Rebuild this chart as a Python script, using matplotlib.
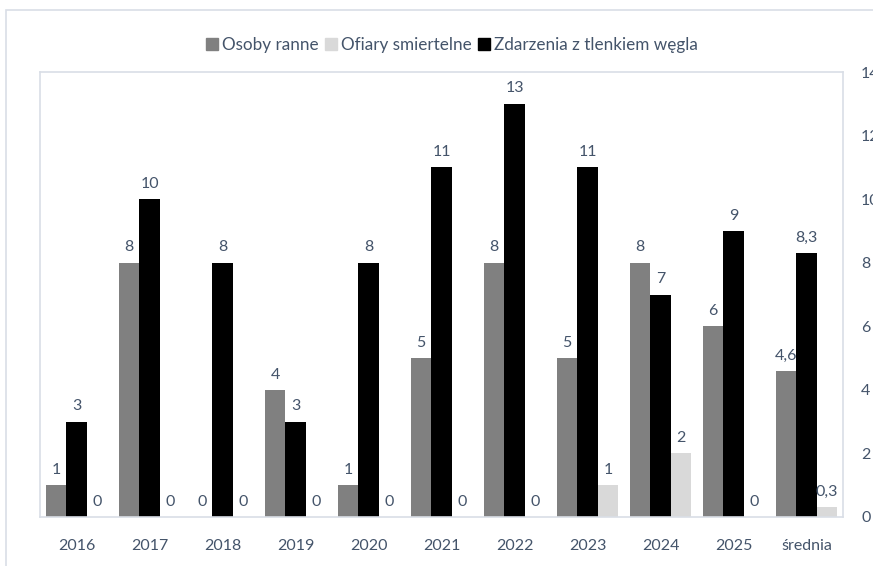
import matplotlib
matplotlib.use("Agg")
import matplotlib.pyplot as plt
from matplotlib.patches import Rectangle, Patch
import numpy as np

categories = ["2016", "2017", "2018", "2019", "2020", "2021", "2022", "2023", "2024", "2025", "średnia"]
osoby_ranne = [1, 8, 0, 4, 1, 5, 8, 5, 8, 6, 4.6]
zdarzenia = [3, 10, 8, 3, 8, 11, 13, 11, 7, 9, 8.3]
ofiary = [0, 0, 0, 0, 0, 0, 0, 1, 2, 0, 0.3]
yticks = [0, 2, 4, 6, 8, 10, 12, 14]

plt.rcParams['font.family'] = ['Lato', 'DejaVu Sans']
txt = '#44546A'
border = '#D9DEE6'
fs = 11.5

fig = plt.figure(figsize=(8.73, 5.66), dpi=100)
fig.patches.append(Rectangle((6/873, -0.1), 1.2, 1 - 10/566 + 0.1, transform=fig.transFigure,
                             fill=False, edgecolor=border, linewidth=1.2))
ax = fig.add_axes([40/873, 49/566, 803/873, 445/566])
x = np.arange(len(categories))
w = 0.28
series = [(osoby_ranne, '#808080', -w), (zdarzenia, '#000000', 0), (ofiary, '#D9D9D9', w)]
for vals, col, off in series:
    bars = ax.bar(x + off, vals, width=w, color=col)
    labels = [str(v).replace('.', ',') if v % 1 else str(int(v)) for v in vals]
    ax.bar_label(bars, labels=labels, padding=6, color=txt, fontsize=fs)

ax.set_xlim(-0.5, len(categories) - 0.5)
ax.set_ylim(0, 14)
ax.set_xticks(x)
ax.set_xticklabels(categories, color=txt, fontsize=fs)
ax.tick_params(axis='x', length=0, pad=16)
ax.set_yticks([])
for s in ax.spines.values():
    s.set_color(border)
    s.set_linewidth(1.2)

ax2 = ax.twinx()
ax2.set_ylim(0, 14)
ax2.set_yticks(yticks)
ax2.set_yticklabels([str(t) for t in yticks], color=txt, fontsize=fs)
ax2.tick_params(axis='y', length=0, pad=13)
for s in ax2.spines.values():
    s.set_visible(False)

handles = [Patch(color='#808080', label='Osoby ranne'),
           Patch(color='#D9D9D9', label='Ofiary smiertelne'),
           Patch(color='#000000', label='Zdarzenia z tlenkiem węgla')]
fig.legend(handles=handles, loc='center', bbox_to_anchor=(452/873, 1 - 45/566), ncol=3,
           frameon=False, fontsize=12.3, labelcolor=txt, handlelength=0.7, handleheight=0.7,
           handletextpad=0.2, columnspacing=0.4)

fig.savefig('out.png', dpi=100)
